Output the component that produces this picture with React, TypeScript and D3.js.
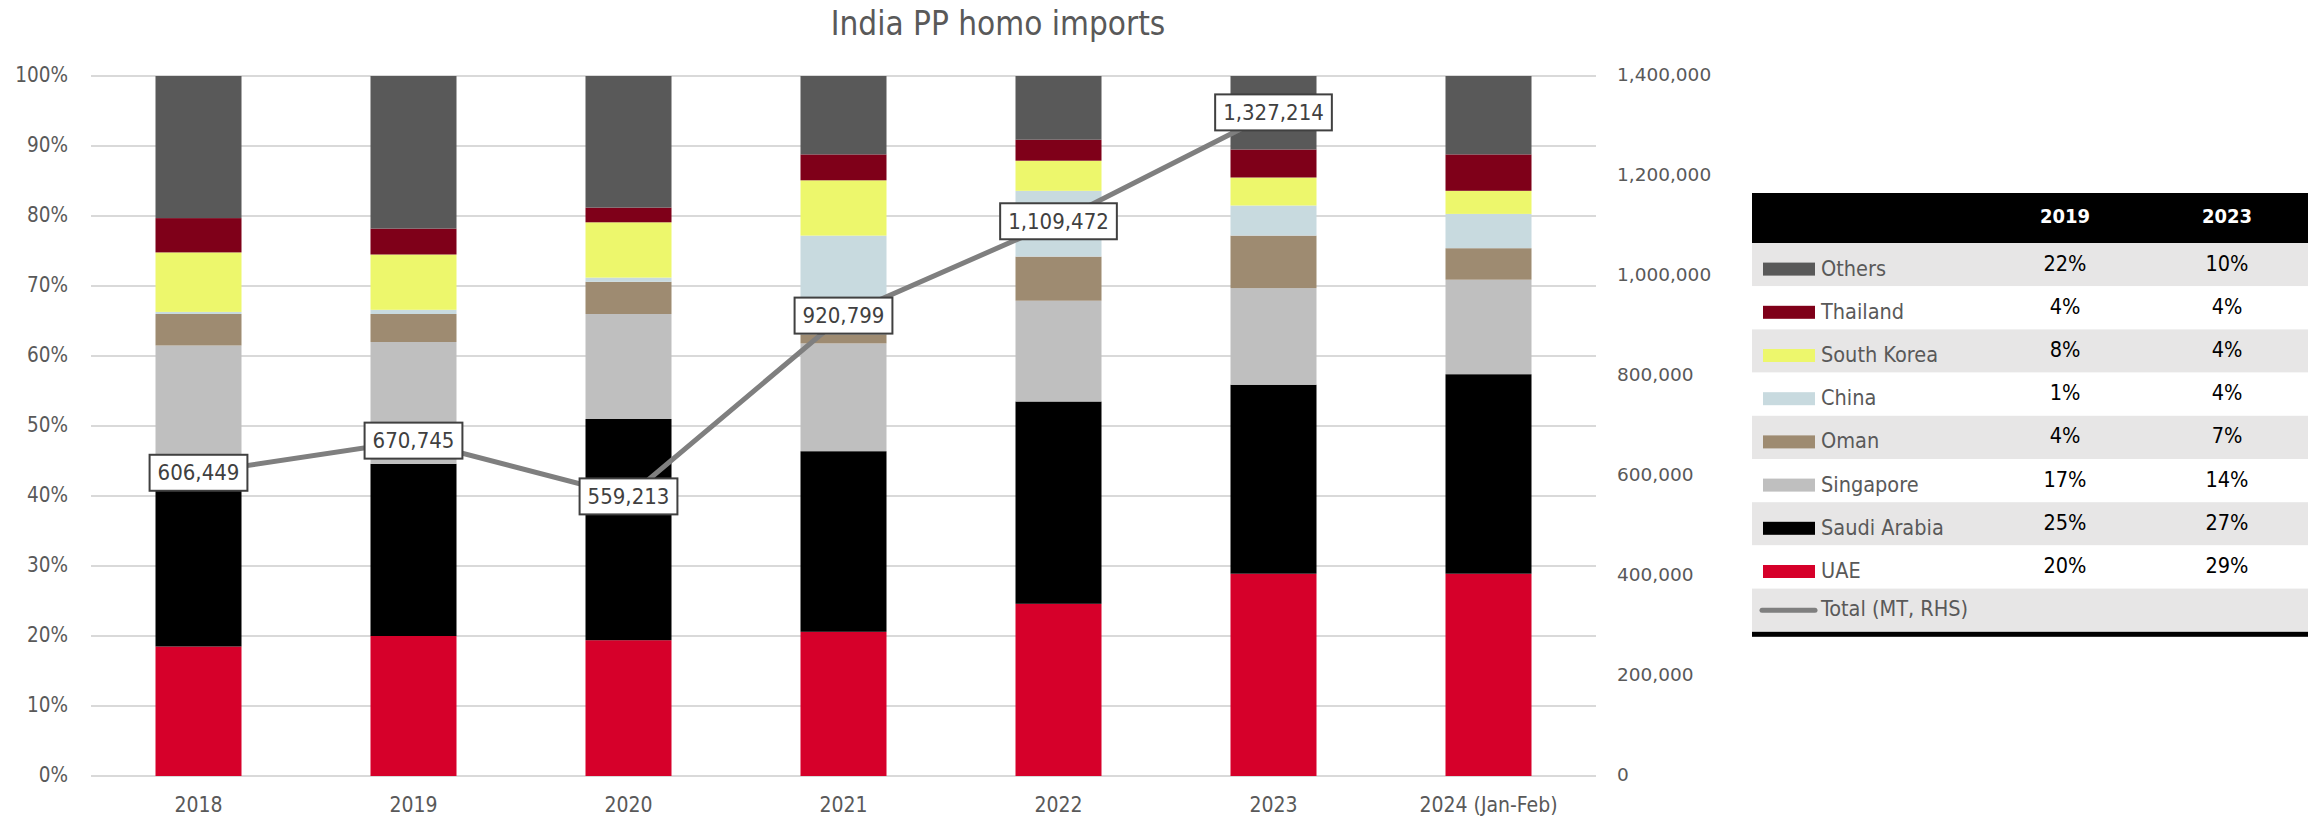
import { useEffect, useRef } from "react";
import * as d3 from "d3";

// categories
const years = ["2018", "2019", "2020", "2021", "2022", "2023", "2024 (Jan-Feb)"];

// share of imports by origin, % of total
const uae = [18.5, 20.0, 19.4, 20.6, 24.6, 28.9, 28.9];
const saudiArabia = [26.0, 24.6, 31.6, 25.8, 28.9, 27.0, 28.5];
const singapore = [17.0, 17.4, 15.0, 15.4, 14.4, 13.8, 13.5];
const oman = [4.5, 4.0, 4.6, 1.3, 6.3, 7.5, 4.5];
const china = [0.3, 0.6, 0.6, 14.1, 9.4, 4.3, 4.9];
const southKorea = [8.5, 7.9, 7.9, 7.9, 4.3, 4.0, 3.3];
const thailand = [4.9, 3.7, 2.1, 3.7, 3.0, 4.0, 5.2];
const others = [20.3, 21.8, 18.8, 11.2, 9.1, 10.5, 11.2];

// total imports, MT (right axis)
const totalMT = [606449, 670745, 559213, 920799, 1109472, 1327214, null];

// stack order, bottom to top
const seriesNames = ["UAE", "Saudi Arabia", "Singapore", "Oman", "China", "South Korea", "Thailand", "Others"];
const seriesValues = [uae, saudiArabia, singapore, oman, china, southKorea, thailand, others];
const seriesColors = ["#d6002a", "#000000", "#bfbfbf", "#9e8b71", "#c8dadf", "#edf76c", "#7f0019", "#595959"];

// side table
const tableCols = ["2019", "2023"];
const share2019 = ["20%", "25%", "17%", "4%", "1%", "8%", "4%", "22%"];
const share2023 = ["29%", "27%", "14%", "7%", "4%", "4%", "4%", "10%"];
const lineName = "Total (MT, RHS)";

const title = "India PP homo imports";

const W = 2310;
const H = 818;
const FONT = "'DejaVu Sans Condensed', 'Liberation Sans Narrow', Roboto, sans-serif";
const GREY = "#595959";

export default function App() {
  const ref = useRef<SVGSVGElement>(null);

  useEffect(() => {
    document.body.style.margin = "0";
    document.body.style.overflow = "hidden";

    const svg = d3.select(ref.current);
    svg.selectAll("*").remove();

    const left = 91;
    const right = 1596;
    const top = 76;
    const bottom = 776;

    const x = d3.scaleBand().domain(years).range([left, right]).paddingInner(0.6).paddingOuter(0.3);
    const yPct = d3.scaleLinear().domain([0, 100]).range([bottom, top]);
    const yTot = d3.scaleLinear().domain([0, 1400000]).range([bottom, top]);

    // title
    svg.append("text")
      .attr("x", 998).attr("y", 25)
      .attr("text-anchor", "middle").attr("dominant-baseline", "middle")
      .attr("font-family", FONT).attr("font-size", 33).attr("fill", GREY)
      .text(title);

    // gridlines
    svg.append("g").selectAll("line")
      .data(yPct.ticks(10))
      .join("line")
      .attr("x1", left).attr("x2", right)
      .attr("y1", d => yPct(d)).attr("y2", d => yPct(d))
      .attr("stroke", "#d9d9d9").attr("stroke-width", 2);

    // left axis
    svg.append("g").selectAll("text")
      .data(yPct.ticks(10))
      .join("text")
      .attr("x", 68).attr("y", d => yPct(d))
      .attr("text-anchor", "end").attr("dominant-baseline", "middle")
      .attr("font-family", FONT).attr("font-size", 20.5).attr("fill", GREY)
      .text(d => d3.format(".0%")(d / 100));

    // right axis
    svg.append("g").selectAll("text")
      .data(d3.range(0, 1400001, 200000))
      .join("text")
      .attr("x", 1617).attr("y", d => yTot(d))
      .attr("dominant-baseline", "middle")
      .attr("font-family", "'DejaVu Sans', sans-serif").attr("font-size", 18.5).attr("fill", GREY)
      .text(d => d3.format(",")(d));

    // x axis labels
    svg.append("g").selectAll("text")
      .data(years)
      .join("text")
      .attr("x", d => (x(d) as number) + x.bandwidth() / 2).attr("y", 806)
      .attr("text-anchor", "middle").attr("dominant-baseline", "middle")
      .attr("font-family", FONT).attr("font-size", 21).attr("fill", GREY)
      .text(d => d);

    // stacked bars
    const rows = years.map((yr, i) => {
      const r: Record<string, any> = { year: yr };
      seriesNames.forEach((n, k) => (r[n] = seriesValues[k][i]));
      return r;
    });
    const stacked = d3.stack().keys(seriesNames)(rows as any);
    svg.append("g").selectAll("g")
      .data(stacked)
      .join("g")
      .attr("fill", (_, k) => seriesColors[k])
      .selectAll("rect")
      .data(d => d)
      .join("rect")
      .attr("x", d => x((d.data as any).year) as number)
      .attr("width", x.bandwidth())
      .attr("y", d => yPct(d[1]))
      .attr("height", d => yPct(d[0]) - yPct(d[1]));

    // total line
    const pts = years.map((yr, i) => ({ yr, v: totalMT[i] })).filter(d => d.v != null) as { yr: string; v: number }[];
    const line = d3.line<{ yr: string; v: number }>()
      .x(d => (x(d.yr) as number) + x.bandwidth() / 2)
      .y(d => yTot(d.v));
    svg.append("path")
      .datum(pts)
      .attr("fill", "none")
      .attr("stroke", "#7f7f7f")
      .attr("stroke-width", 5)
      .attr("d", line);

    // data labels
    const lab = svg.append("g").selectAll("g")
      .data(pts)
      .join("g")
      .attr("transform", d => `translate(${(x(d.yr) as number) + x.bandwidth() / 2},${yTot(d.v)})`);
    lab.append("rect")
      .attr("fill", "#ffffff").attr("stroke", "#404040").attr("stroke-width", 2);
    lab.append("text")
      .attr("text-anchor", "middle").attr("dominant-baseline", "central")
      .attr("font-family", FONT).attr("font-size", 22).attr("fill", "#404040")
      .text(d => d3.format(",")(d.v));
    lab.each(function () {
      const g = d3.select(this);
      const bb = (g.select("text").node() as SVGTextElement).getBBox();
      g.select("rect")
        .attr("x", -bb.width / 2 - 8).attr("width", bb.width + 16)
        .attr("y", -18).attr("height", 36);
    });

    // table
    const tL = 1752;
    const tR = 2308;
    const hTop = 193;
    const hBot = 243;
    const rowH = 43.2;
    const colX = [2065, 2227];
    const tableRows = seriesNames.map((n, k) => ({ n, k })).reverse();

    const tbl = svg.append("g");
    tbl.append("rect").attr("x", tL).attr("y", hTop).attr("width", tR - tL).attr("height", hBot - hTop).attr("fill", "#000");
    tbl.selectAll("text.hd")
      .data(tableCols)
      .join("text")
      .attr("class", "hd")
      .attr("x", (_, i) => colX[i]).attr("y", hBot - rowH / 2 - 4)
      .attr("text-anchor", "middle").attr("dominant-baseline", "middle")
      .attr("font-family", FONT).attr("font-size", 20).attr("font-weight", "bold").attr("fill", "#fff")
      .text(d => d);

    const allRows = [...tableRows.map(r => ({ ...r, line: false })), { n: lineName, k: -1, line: true }];
    const rg = tbl.selectAll("g.row")
      .data(allRows)
      .join("g")
      .attr("class", "row")
      .attr("transform", (_, i) => `translate(0,${hBot + i * rowH})`);
    rg.append("rect")
      .attr("x", tL).attr("width", tR - tL).attr("height", rowH)
      .attr("fill", (_, i) => (i % 2 === 0 ? "#e7e6e6" : "#ffffff"));
    rg.filter(d => !d.line).append("rect")
      .attr("x", 1763).attr("width", 52).attr("y", rowH / 2 - 2).attr("height", 13)
      .attr("fill", d => seriesColors[d.k]);
    rg.filter(d => d.line).append("line")
      .attr("x1", 1762).attr("x2", 1815).attr("y1", rowH / 2).attr("y2", rowH / 2)
      .attr("stroke", "#7f7f7f").attr("stroke-width", 5).attr("stroke-linecap", "round");
    rg.append("text")
      .attr("x", 1821).attr("y", d => (d.line ? rowH / 2 : rowH / 2 + 5))
      .attr("dominant-baseline", "middle")
      .attr("font-family", FONT).attr("font-size", 21.5).attr("fill", GREY)
      .text(d => d.n);
    [share2019, share2023].forEach((vals, c) => {
      rg.filter(d => !d.line).append("text")
        .attr("x", colX[c]).attr("y", rowH / 2)
        .attr("text-anchor", "middle").attr("dominant-baseline", "middle")
        .attr("font-family", FONT).attr("font-size", 21.5).attr("fill", "#000")
        .text(d => vals[d.k]);
    });
    tbl.append("rect")
      .attr("x", tL).attr("y", hBot + allRows.length * rowH).attr("width", tR - tL).attr("height", 5)
      .attr("fill", "#000");
  }, []);

  return (
    <svg
      ref={ref}
      width={W}
      height={H}
      style={{ position: "absolute", left: 0, top: 0, display: "block", background: "#fff" }}
    ></svg>
  );
}
